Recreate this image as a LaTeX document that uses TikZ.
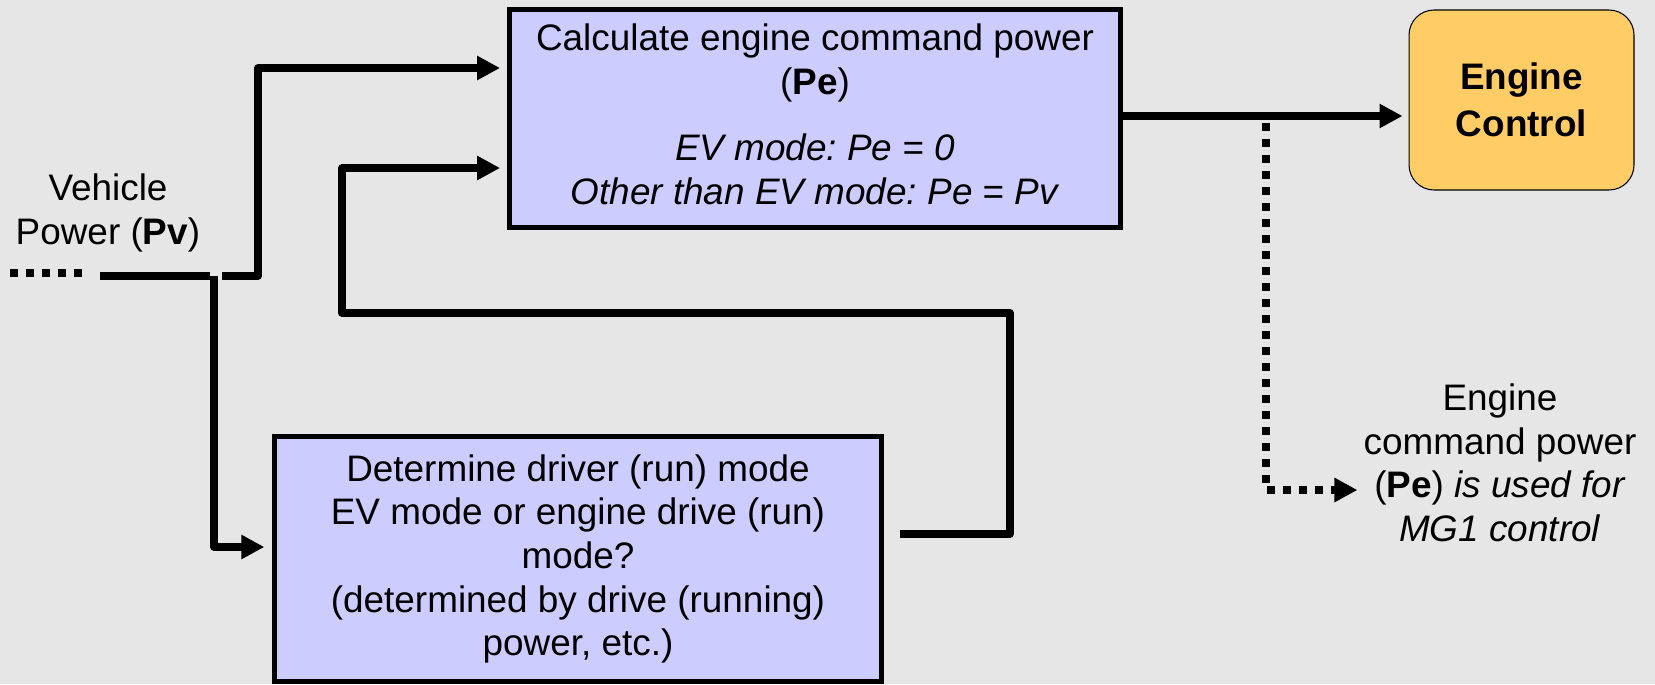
\documentclass[tikz,border=0pt]{standalone}
\usepackage{fontspec}
\setmainfont{Liberation Sans}
\usetikzlibrary{arrows.meta,calc}

\definecolor{bggray}{HTML}{E6E6E6}
\definecolor{boxblue}{HTML}{CCCCFF}
\definecolor{boxorange}{HTML}{FFCC66}

\begin{document}
\frenchspacing
\begin{tikzpicture}[
  x=0.02cm, y=-0.02cm,
  font=\fontsize{21}{24.8}\selectfont,
  >={Triangle[length=4.6mm, width=4.6mm]},
  wire/.style={line width=1.5mm, line join=round},
  dotwire/.style={line width=1.6mm, dash pattern=on 1.6mm off 1.6mm},
  block/.style={draw, line width=1mm, fill=boxblue, align=center, inner sep=0pt},
  ctrl/.style={draw, line width=0.6pt, fill=boxorange, rounded corners=5mm,
               align=center, font=\fontsize{21}{26.6}\selectfont\bfseries},
  lbl/.style={align=center}
]

% ---------- latar ----------
\useasboundingbox (0,0) rectangle (1655,684);
\fill[bggray] (0,0) rectangle (1655,684);

% ---------- blok ----------
\node[block, minimum width=12.24cm, minimum height=4.38cm] (calc) at (815,118.5)
  {Calculate engine command power\\(\textbf{Pe})\\[13pt]
   \textit{EV mode: Pe = 0}\\\textit{Other than EV mode: Pe = Pv}\rule[-5pt]{0pt}{5pt}};
\node[block, minimum width=12.15cm, minimum height=4.9cm]  (mode) at (578,559)
  {Determine driver (run) mode\\EV mode or engine drive (run)\\mode?\\
   (determined by drive (running)\\power, etc.)};
\node[ctrl, minimum width=4.5cm, minimum height=3.6cm]     (eng)  at (1521.5,100)
  {Engine\\Control};

% ---------- label ----------
\node[lbl] (pv)  at (108,213)  {Vehicle\\Power (\textbf{Pv})};
\node[lbl] (mg1) at (1500,463) {Engine\\command power\\(\textbf{Pe}) \textit{is used for}\\\textit{MG1 control}};

% ---------- titik bantu ----------
\coordinate (pvdot)  at (10,273);
\coordinate (pvdot2) at (84,273);
\coordinate (pvin)   at (100,276);
\coordinate (split)  at (214,276);
\coordinate (up)     at (258,276);
\coordinate (fbout)  at ($(mode.east)+(16,-25)$);
\coordinate (fbr)    at (1010,313);
\coordinate (fbl)    at (342,313);
\coordinate (pe)     at ($(calc.east)+(0,-2.5)$);
\coordinate (tap)    at (1266,123);

% ---------- garis masuk Pv ----------
\draw[dotwire] (pvdot) -- (pvdot2);
\draw[wire]    (pvin) -- ($(split)+(-4,0)$);
\draw[wire,->,shorten >=1.3mm] ($(split)+(8,0)$) -- (up)
                               |- ($(calc.west)+(0,-50.5)$);
\draw[wire,->,shorten >=1.5mm] (split) |- ($(mode.west)+(0,-12)$);

% ---------- umpan balik mode ----------
\draw[wire,->,shorten >=1.3mm] (fbout) -| (fbr) -- (fbl)
                               |- ($(calc.west)+(0,49.5)$);

% ---------- keluaran Pe ----------
\draw[wire,->,shorten >=1.2mm] (pe) -- (pe -| eng.west);
\draw[dotwire,->] (tap) |- ($(mg1.west)+(0,27)$);

\end{tikzpicture}
\end{document}
